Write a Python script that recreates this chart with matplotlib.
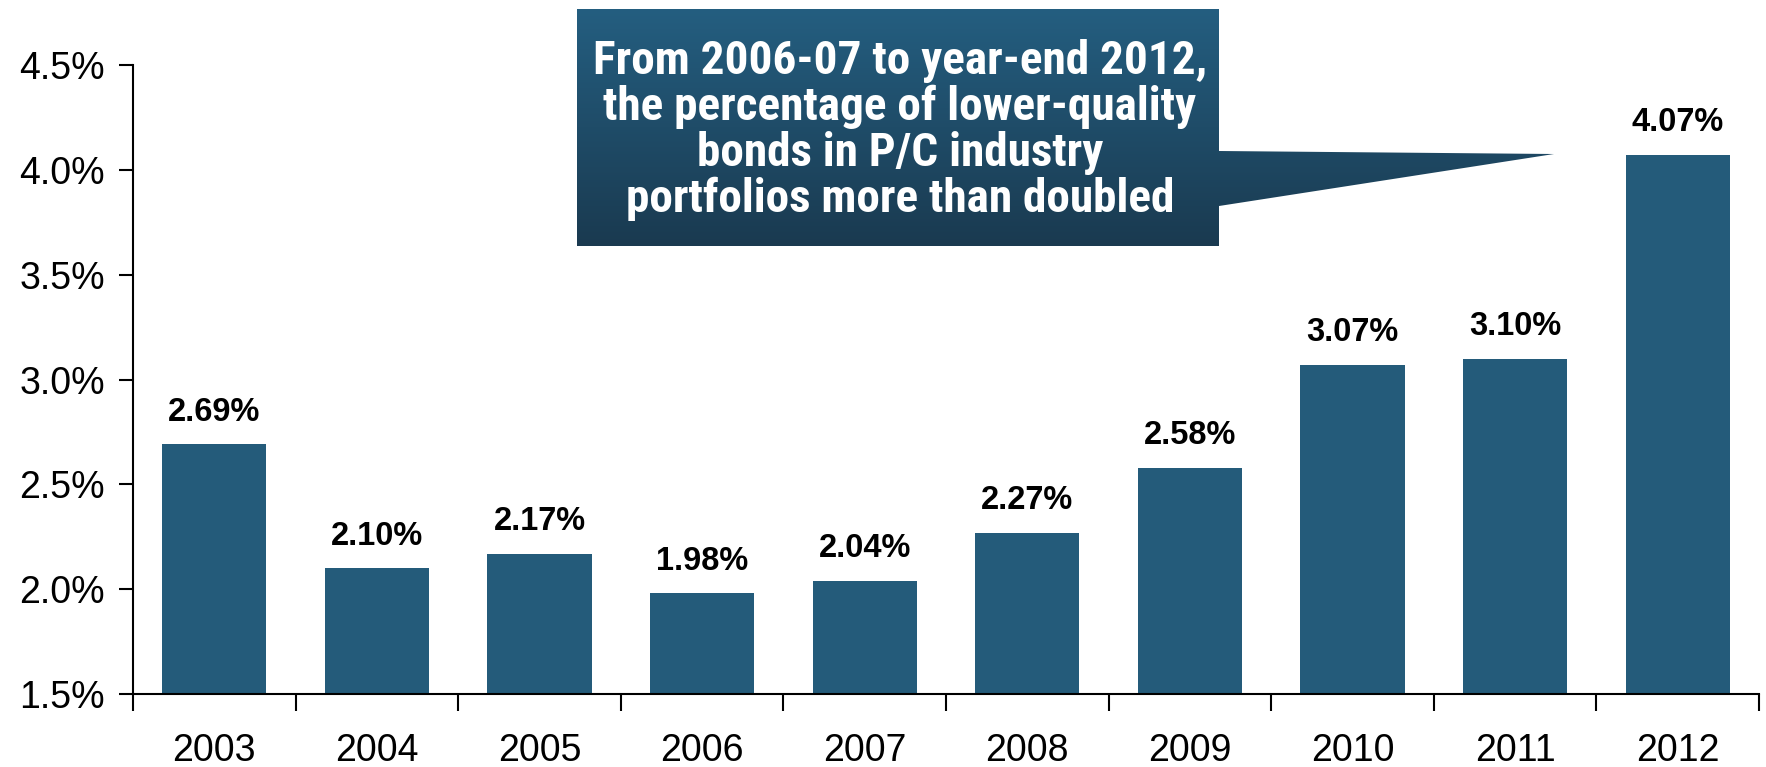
import matplotlib.pyplot as plt
import numpy as np
from matplotlib import font_manager
from matplotlib.patches import Polygon
from matplotlib.colors import LinearSegmentedColormap
from matplotlib.ticker import FuncFormatter

years = ['2003', '2004', '2005', '2006', '2007', '2008', '2009', '2010', '2011', '2012']
share = [2.69, 2.10, 2.17, 1.98, 2.04, 2.27, 2.58, 3.07, 3.10, 4.07]
labels = ['2.69%', '2.10%', '2.17%', '1.98%', '2.04%', '2.27%', '2.58%', '3.07%', '3.10%', '4.07%']
note = ('From 2006-07 to year-end 2012,\nthe percentage of lower-quality\n'
        'bonds in P/C industry\nportfolios more than doubled')

plt.rcParams['font.family'] = ['Liberation Sans', 'DejaVu Sans']

# a narrow face for the callout if one is installed
narrow = None
for name in ['Liberation Sans Narrow', 'Arial Narrow', 'Roboto Condensed', 'DejaVu Sans Condensed']:
    try:
        font_manager.findfont(font_manager.FontProperties(family=name, weight='bold'),
                              fallback_to_default=False)
        narrow = name
        break
    except ValueError:
        pass

fig = plt.figure(figsize=(17.66, 7.67), dpi=100)
ax = fig.add_axes([133 / 1766, 1 - 694 / 767, 1626 / 1766, 629 / 767])

x = np.arange(len(years))
ax.bar(x, [v - 1.5 for v in share], bottom=1.5, width=0.64, color='#245B7A')
for xi, v, t in zip(x, share, labels):
    ax.annotate(t, (xi, v), xytext=(0, 12), textcoords='offset points',
                ha='center', va='bottom', fontsize=23.5, fontweight='bold')

ax.set_xlim(-0.5, 9.5)
ax.set_ylim(1.5, 4.5)
ax.set_yticks([1.5, 2.0, 2.5, 3.0, 3.5, 4.0, 4.5])
ax.yaxis.set_major_formatter(FuncFormatter(lambda v, p: '%.1f%%' % v))
ax.set_xticks(x)
ax.set_xticklabels(years)
ax.set_xticks(np.arange(-0.5, 10, 1), minor=True)
ax.tick_params(axis='x', which='major', length=0, pad=28, labelsize=27)
ax.tick_params(axis='x', which='minor', length=12, width=1.5)
ax.tick_params(axis='y', length=10, width=1.5, labelsize=27, pad=10)
for s in ['top', 'right']:
    ax.spines[s].set_visible(False)
for s in ['left', 'bottom']:
    ax.spines[s].set_linewidth(1.5)

# callout box drawn in pixel coordinates of the figure
ov = fig.add_axes([0, 0, 1, 1])
ov.axis('off')
shape = [(577, 9), (1219, 9), (1219, 151), (1554, 154), (1219, 206), (1219, 246), (577, 246)]
poly = Polygon(shape, closed=True, facecolor='none', edgecolor='none')
ov.add_patch(poly)
grad = np.linspace(0, 1, 256).reshape(-1, 1)
cmap = LinearSegmentedColormap.from_list('box', ['#245E80', '#1A3A50'])
img = ov.imshow(grad, cmap=cmap, extent=(577, 1554, 246, 9), aspect='auto')
img.set_clip_path(poly)
if narrow in ('Liberation Sans Narrow', 'Arial Narrow', 'Roboto Condensed'):
    ov.text(900, 130, note, ha='center', va='center', color='white', fontsize=34,
            fontweight='bold', linespacing=1.06, family=[narrow, 'Liberation Sans'])
else:
    ov.text(900, 130, note, ha='center', va='center', color='white', fontsize=30,
            fontweight='bold', linespacing=1.2, family=['Liberation Sans'])
ov.set_xlim(0, 1766)
ov.set_ylim(767, 0)

fig.savefig('out.png', dpi=100)
